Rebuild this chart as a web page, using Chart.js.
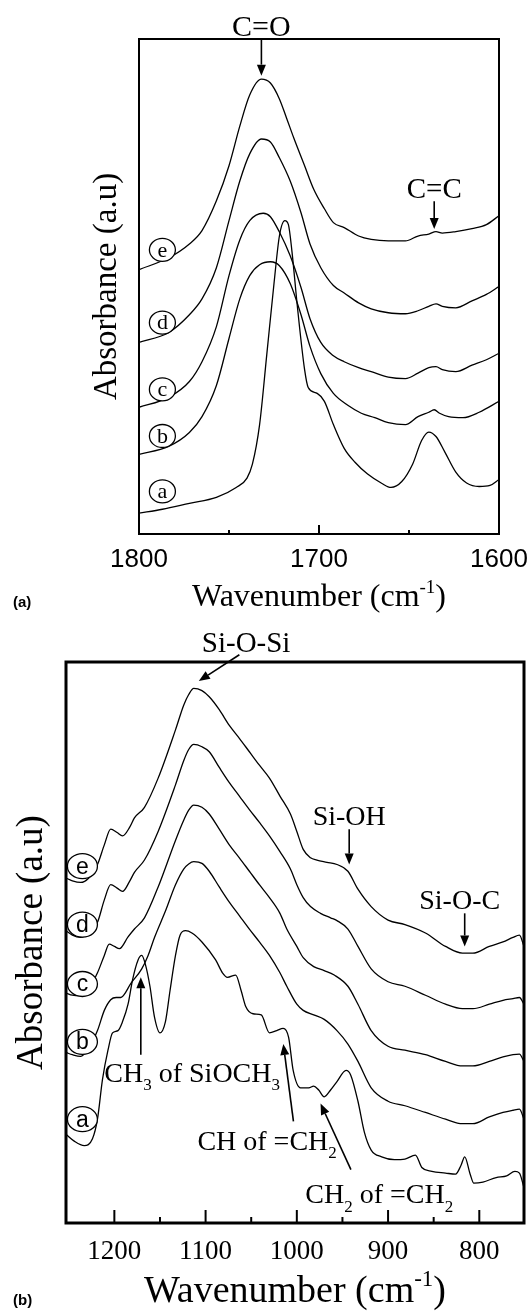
<!DOCTYPE html>
<html>
<head>
<meta charset="utf-8">
<script src="https://cdn.jsdelivr.net/npm/chart.js@4.4.0/dist/chart.umd.min.js"></script>
<style>
html, body { margin: 0; padding: 0; background: #fff; }
#wrap { position: relative; width: 530px; height: 1314px; }
.box { position: absolute; left: 0; width: 530px; }
</style>
</head>
<body>
<div id="wrap">
  <div class="box" style="top:0;height:640px"><canvas id="chartA"></canvas></div>
  <div class="box" style="top:600px;height:714px"><canvas id="chartB"></canvas></div>
</div>
<script>
// ---------- panel (a): C=O / C=C region ----------
var ticksA = [1600, 1700, 1800]
var minorA = [1650, 1750]

var waveAa = [1800,1787,1772,1757,1746,1740,1737,1733,1729,1725,1722,1719,1717,1715,1712,1708,1706,1701,1697,1692,1686,1680,1673,1665,1660,1654,1648,1643,1639,1635,1630,1624,1618,1611,1605,1600]
var absAa  = [4.2,5.0,6.2,7.4,9.4,11.3,14.1,22.1,36.3,50.6,60.2,63.3,62.5,57.0,45.9,33.2,29.6,28.4,26.8,22.1,17.3,14.5,12.1,10.2,9.4,10.6,14.1,18.9,20.6,19.7,16.5,12.5,10.3,9.6,9.8,11.0]

var waveAb = [1800,1783.5,1772,1765,1757,1750,1744,1738.5,1733,1727,1722,1716,1710,1705,1699,1692,1684,1676.5,1669,1661.5,1652,1645,1639,1636,1633,1628,1620,1611,1600]
var absAb  = [16.1,17.7,20.5,23.7,30.0,39.5,47.5,52.2,54.4,55.0,54.2,50.6,44.3,37.9,32.4,28.4,26.0,24.4,23.5,22.5,22.1,23.7,24.6,25.1,24.4,23.7,23.5,24.6,26.8]

var waveAc = [1800,1783.5,1772,1765,1757,1750,1744,1738.5,1731,1727,1722,1716,1710,1705,1699,1692,1686,1678,1671,1661.5,1652,1645,1639,1635,1631.5,1624,1615,1607,1600]
var absAc  = [25.6,27.6,30.8,34.8,41.9,52.2,59.4,63.3,64.8,64.1,61.0,56.2,49.8,43.5,38.7,36.0,34.8,33.6,32.8,31.7,31.4,32.5,33.6,33.8,33.2,32.8,34.1,35.2,36.5]

var waveAd = [1800,1783.5,1772,1765,1757,1750,1744,1738.5,1732,1727,1722,1716,1710,1705,1699,1692,1686,1678,1671,1661.5,1652,1645,1639,1635,1631.5,1624,1615,1607,1600]
var absAd  = [38.7,40.7,44.3,47.5,53.8,63.3,71.3,76.8,79.8,79.2,76.0,71.3,64.9,58.6,53.8,50.2,48.7,46.7,45.5,44.7,44.5,45.1,46.0,46.5,46.0,45.7,47.1,48.4,50.0]

var waveAe = [1800,1783.5,1772,1765,1757,1750,1744,1738.5,1732,1727,1722,1718,1714,1708,1703,1697,1692,1686,1678,1671,1661.5,1652,1645,1639,1635,1631.5,1624,1615,1607,1600]
var absAe  = [53.4,55.8,58.6,61.3,67.3,74.4,82.4,88.7,91.9,91.1,87.9,84.0,80.0,74.4,69.7,65.7,62.9,61.9,60.2,59.5,59.2,59.2,60.2,60.6,61.1,60.8,61.1,61.7,62.5,64.3]

var curveLetters = ['a', 'b', 'c', 'd', 'e']
var circleWaveA = 1787
var circleAbsA = [8.6, 19.8, 29.2, 42.7, 57.4]

// ---------- panel (b): Si-O region ----------
var ticksB = [800, 900, 1000, 1100, 1200]
var minorB = [850, 950, 1050, 1150]

var waveBa = [1253,1244,1233,1224,1218.5,1213,1207,1202,1196,1191,1185,1180,1174,1170,1166,1161,1156,1150,1144,1139,1133,1128,1122,1115,1104,1089,1081.5,1076,1067,1061,1056,1048,1039,1030,1022,1015,1009,1004,996,987,981.5,976,970,963,956,946,941,933,926,918.5,907,893,881.5,870,863,852,837,826,820,816,810,806,796,781.5,770,761,756,751]
var absBa  = [15.8,14.6,13.8,15.0,18.5,25.6,30.8,33.9,34.3,35.9,39.0,43.4,46.9,47.7,46.1,42.2,36.7,33.9,35.9,41.4,47.7,51.3,52.1,51.7,50.1,46.9,44.6,43.8,44.2,41.4,38.6,37.3,37.1,33.9,34.3,34.7,33.1,27.2,24.1,24.1,24.4,23.7,22.5,23.7,25.2,27.2,26.4,21.7,16.2,13.0,11.8,11.3,11.4,12.1,9.9,9.2,8.9,8.7,10.3,11.8,8.7,7.1,7.3,8.1,8.4,9.2,8.9,6.3]

var waveBb = [1253,1246,1237,1228,1218.5,1211,1204,1198,1193,1181.5,1170,1163,1156,1144,1133,1124,1118.5,1113,1104,1096,1085,1074,1063,1052,1041,1030,1018.5,1011,1000,993,981.5,970,956,944,933,918.5,900,881.5,859,837,818.5,807,789,774,763,756,751]
var absBb  = [30.4,30.0,29.7,31.2,34.3,37.9,39.8,40.2,40.2,42.8,45.3,47.7,50.9,55.6,60.3,63.1,64.0,64.4,64.1,62.7,59.9,57.2,54.8,52.4,50.1,47.7,44.6,42.2,39.0,37.9,37.1,36.3,34.3,31.9,28.8,24.1,21.7,20.9,19.7,18.5,17.7,17.7,18.9,19.7,20.1,20.3,18.5]

var waveBc = [1253,1246,1237,1228,1218.5,1211,1205.6,1200,1194.4,1185,1178,1167,1152,1133,1124,1118.5,1113,1104,1096,1085,1074,1063,1052,1041,1030,1018.5,1011,1000,993,981.5,970,959,944,933,918.5,900,881.5,859,837,818.5,807,789,774,763,756,751]
var absBc  = [41.0,40.6,40.5,41.8,44.6,47.7,49.7,49.3,48.9,51.0,52.4,54.4,59.9,68.2,71.8,73.6,74.5,74.1,72.9,70.2,67.4,65.1,62.7,60.3,58.0,55.2,52.4,49.3,47.3,45.7,45.0,44.2,42.2,39.0,34.3,31.5,30.8,30.0,28.8,28.0,28.0,28.8,29.6,30.0,30.1,28.8]

var waveBd = [1253,1246,1237,1228,1218.5,1211,1204,1197,1191,1183,1178,1167,1152,1133,1124,1118.5,1113,1104,1096,1085,1074,1063,1052,1041,1030,1018.5,1007,1000,993,985,974,963,956,944,933,918.5,900,881.5,859,837,818.5,807,789,774,763,756,751]
var absBd  = [52.1,51.3,50.9,51.7,53.6,57.6,60.3,59.7,59.1,61.0,62.5,64.7,69.8,78.1,82.4,84.4,85.3,84.9,84.0,81.2,78.5,76.1,73.7,71.4,69.0,66.2,63.1,60.3,58.0,56.4,55.2,54.4,53.9,52.4,49.3,45.3,43.0,42.2,40.6,39.0,38.2,38.2,39.0,39.7,40.0,40.2,39.0]

var waveBe = [1253,1246,1237,1228,1218.5,1211,1204,1197,1191,1183,1178,1167,1152,1133,1124,1118.5,1113,1104,1096,1085,1074,1063,1052,1041,1030,1018.5,1007,1000,993,985,978,967,956,944,933,918.5,900,881.5,859,837,818.5,807,789,774,763,756,751]
var absBe  = [61.5,61.0,60.7,61.5,63.9,67.4,70.2,69.6,69.0,70.6,72.2,74.1,79.3,87.9,92.3,94.2,95.3,94.9,93.8,91.5,88.7,86.4,84.0,81.6,79.3,76.1,72.9,69.8,66.6,65.1,64.7,64.3,63.9,62.7,59.5,56.4,54.0,53.2,51.7,49.3,48.1,48.1,49.3,50.1,50.9,51.3,49.3]

var circleWaveB = 1235
var circleAbsB = [18.5, 32.3, 42.6, 53.2, 63.6]

var SERIF = '"Liberation Serif", "Times New Roman", serif'
var SANS = '"Liberation Sans", Arial, sans-serif'

function lineSet(w, a) {
    return {
        data: w.map(function(v, i){ return {x: v, y: a[i]} }),
        borderColor: '#000',
        borderWidth: 1.3,
        pointRadius: 0,
        fill: false,
        cubicInterpolationMode: 'monotone'
    }
}

// text made of pieces, some of them sub/superscript
function richText(ctx, parts, x, y, size, align){
    var total = 0
    parts.forEach(function(p){
        ctx.font = (p.s ? Math.round(size * 0.6) : size) + 'px ' + SERIF
        p.w = ctx.measureText(p.t).width
        total += p.w
    })
    var cx = align === 'center' ? x - total / 2 : x
    ctx.textAlign = 'left'
    ctx.textBaseline = 'alphabetic'
    parts.forEach(function(p){
        ctx.font = (p.s ? Math.round(size * 0.6) : size) + 'px ' + SERIF
        var dy = p.s === 'sub' ? size * 0.3 : (p.s === 'sup' ? -size * 0.42 : 0)
        ctx.fillText(p.t, cx, y + dy)
        cx += p.w
    })
}

function arrow(ctx, x1, y1, x2, y2){
    var ang = Math.atan2(y2 - y1, x2 - x1), hl = 11, hw = 4.5
    var bx = x2 - hl * Math.cos(ang), by = y2 - hl * Math.sin(ang)
    ctx.beginPath()
    ctx.moveTo(x1, y1)
    ctx.lineTo(bx, by)
    ctx.lineWidth = 1.6
    ctx.stroke()
    ctx.beginPath()
    ctx.moveTo(x2, y2)
    ctx.lineTo(bx + hw * Math.sin(ang), by - hw * Math.cos(ang))
    ctx.lineTo(bx - hw * Math.sin(ang), by + hw * Math.cos(ang))
    ctx.closePath()
    ctx.fill()
}

var decor = {
    id: 'decor',
    afterDraw: function(chart, args, o){
        var ctx = chart.ctx, ca = chart.chartArea
        var xs = chart.scales.x, ys = chart.scales.y
        var X = function(v){ return xs.getPixelForValue(v) }
        var Y = function(v){ return ys.getPixelForValue(v) }
        ctx.save()
        ctx.fillStyle = '#000'
        ctx.strokeStyle = '#000'

        // circled curve letters
        o.circles.forEach(function(v, i){
            var cx = X(o.circleWave), cy = Y(v)
            ctx.beginPath()
            ctx.ellipse(cx, cy, o.rx, o.ry, 0, 0, Math.PI * 2)
            ctx.fillStyle = '#fff'
            ctx.fill()
            ctx.lineWidth = 1.3
            ctx.stroke()
            ctx.fillStyle = '#000'
            ctx.font = o.letterFont
            ctx.textAlign = 'center'
            ctx.textBaseline = 'middle'
            ctx.fillText(curveLetters[i], cx, cy + 1)
        })

        // frame
        ctx.lineWidth = o.frame
        ctx.strokeRect(ca.left, ca.top, ca.right - ca.left, ca.bottom - ca.top)

        // inward ticks on the bottom axis
        ctx.lineWidth = 2
        o.major.forEach(function(v){
            ctx.beginPath(); ctx.moveTo(X(v), ca.bottom); ctx.lineTo(X(v), ca.bottom - o.majorLen); ctx.stroke()
        })
        o.minor.forEach(function(v){
            ctx.beginPath(); ctx.moveTo(X(v), ca.bottom); ctx.lineTo(X(v), ca.bottom - o.minorLen); ctx.stroke()
        })

        // peak labels and arrows
        o.notes.forEach(function(n){
            richText(ctx, n.parts, X(n.at[0]), Y(n.at[1]), n.size, n.align)
        })
        o.arrows.forEach(function(a){
            arrow(ctx, X(a[0]), Y(a[1]), X(a[2]), Y(a[3]))
        })

        // axis titles
        richText(ctx, [{t: 'Wavenumber (cm'}, {t: '-1', s: 'sup'}, {t: ')'}],
            (ca.left + ca.right) / 2, o.xTitleY, o.xTitleSize, 'center')
        ctx.save()
        ctx.translate(o.yTitleX, (ca.top + ca.bottom) / 2)
        ctx.rotate(-Math.PI / 2)
        ctx.font = o.yTitleSize + 'px ' + SERIF
        ctx.textAlign = 'center'
        ctx.textBaseline = 'middle'
        ctx.fillText('Absorbance (a.u)', 0, 0)
        ctx.restore()

        // panel tag
        ctx.font = 'bold 15px ' + SANS
        ctx.textAlign = 'left'
        ctx.textBaseline = 'alphabetic'
        ctx.fillText(o.tag, 13, o.tagY)
        ctx.restore()
    }
}

function makeChart(id, sets, xr, ticks, tickFont, tickPad, pad, yWidth, xHeight, deco){
    return new Chart(document.getElementById(id).getContext('2d'), {
        type: 'line',
        data: { datasets: sets },
        options: {
            responsive: true,
            maintainAspectRatio: false,
            animation: false,
            layout: { padding: pad },
            plugins: { legend: { display: false }, tooltip: { enabled: false }, decor: deco },
            scales: {
                x: {
                    type: 'linear', reverse: true, min: xr[0], max: xr[1],
                    afterBuildTicks: function(s){ s.ticks = ticks.map(function(v){ return {value: v} }) },
                    afterFit: function(s){ s.height = xHeight },
                    grid: { display: false, drawTicks: false },
                    border: { display: false },
                    ticks: { color: '#000', font: tickFont, padding: tickPad, maxRotation: 0, autoSkip: false,
                             callback: function(v){ return String(v) } }
                },
                y: {
                    min: 0, max: 100,
                    afterFit: function(s){ s.width = yWidth },
                    grid: { display: false, drawTicks: false },
                    border: { display: false },
                    ticks: { display: false }
                }
            }
        },
        plugins: [decor]
    })
}

makeChart('chartA',
    [lineSet(waveAa, absAa), lineSet(waveAb, absAb), lineSet(waveAc, absAc), lineSet(waveAd, absAd), lineSet(waveAe, absAe)],
    [1600, 1800], ticksA, { family: SANS, size: 26 }, 10,
    { top: 39, right: 31, left: 0, bottom: 0 }, 139, 106,
    {
        circles: circleAbsA, circleWave: circleWaveA, rx: 13, ry: 11.5, letterFont: '22px ' + SERIF,
        frame: 2, major: [1700], minor: minorA, majorLen: 9, minorLen: 4,
        notes: [
            { parts: [{t: 'C=O'}], at: [1732, 100.6], size: 30, align: 'center' },
            { parts: [{t: 'C=C'}], at: [1636, 67.9], size: 29, align: 'center' }
        ],
        arrows: [[1732, 100, 1732, 92.6], [1636, 67.2, 1636, 61.6]],
        xTitleY: 606, xTitleSize: 32, yTitleX: 107, yTitleSize: 33, tag: '(a)', tagY: 607
    })

makeChart('chartB',
    [lineSet(waveBa, absBa), lineSet(waveBb, absBb), lineSet(waveBc, absBc), lineSet(waveBd, absBd), lineSet(waveBe, absBe)],
    [751, 1253], ticksB, { family: SERIF, size: 27 }, 13,
    { top: 62, right: 6, left: 0, bottom: 0 }, 66, 91,
    {
        circles: circleAbsB, circleWave: circleWaveB, rx: 15, ry: 12.5, letterFont: '23px ' + SANS,
        frame: 3, major: ticksB, minor: minorB, majorLen: 13, minorLen: 6,
        notes: [
            { parts: [{t: 'Si-O-Si'}], at: [1055.6, 101.7], size: 29, align: 'center' },
            { parts: [{t: 'Si-OH'}], at: [942.6, 71.0], size: 28, align: 'center' },
            { parts: [{t: 'Si-O-C'}], at: [821.5, 56.0], size: 28, align: 'center' },
            { parts: [{t: 'CH'}, {t: '3', s: 'sub'}, {t: ' of SiOCH'}, {t: '3', s: 'sub'}], at: [1211, 25.2], size: 28, align: 'left' },
            { parts: [{t: 'CH of =CH'}, {t: '2', s: 'sub'}], at: [1109, 13.0], size: 28, align: 'left' },
            { parts: [{t: 'CH'}, {t: '2', s: 'sub'}, {t: ' of =CH'}, {t: '2', s: 'sub'}], at: [990.7, 3.5], size: 28, align: 'left' }
        ],
        arrows: [
            [1063, 101.3, 1107.4, 96.6],
            [942.6, 70.2, 942.6, 63.9],
            [816, 55.2, 816, 49.3],
            [1171, 30.0, 1171, 43.8],
            [1003.7, 18.1, 1014.8, 31.9],
            [940.7, 9.5, 974, 21.3]
        ],
        xTitleY: 702, xTitleSize: 38, yTitleX: 32, yTitleSize: 37, tag: '(b)', tagY: 705
    })
</script>
</body>
</html>
